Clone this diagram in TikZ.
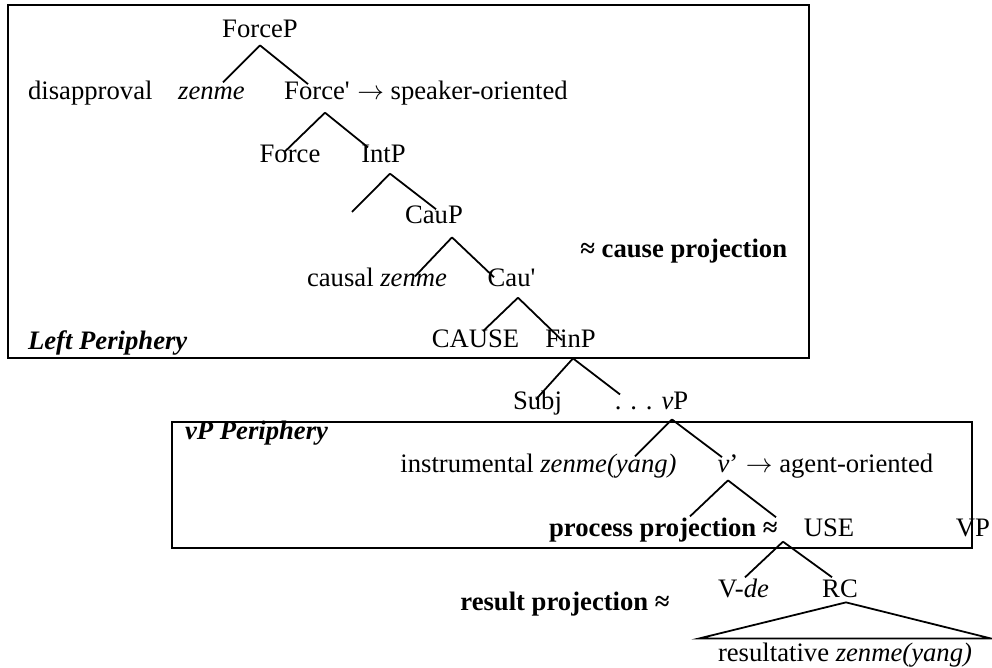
\documentclass[tikz,border=0pt]{standalone}
\usepackage{fontspec}
\setmainfont{Liberation Serif}
\begin{document}
\begin{tikzpicture}[x=0.45pt,y=-0.45pt,
  every node/.style={font=\fontsize{12}{14}\selectfont, inner sep=3pt},
  lab/.style={anchor=base},
  labw/.style={anchor=base west},
  labe/.style={anchor=base east},
  arrowtext/.style={anchor=base west, inner xsep=0pt},
  note/.style={font=\fontsize{12}{14}\selectfont\bfseries},
  branch/.style={line width=0.8pt},
  periph/.style={line width=1.1pt}]
\useasboundingbox (0,0) rectangle (992,668);

% Peripheries
\draw[periph] (8,5) rectangle (809,358);
\draw[periph] (172,422) rectangle (972,548);

% Left periphery
\node[lab] (forcep) at (260,38) {ForceP};
\node[labw] (disappr) at (21,100) {disapproval};
\node[lab] (zenme) at (211.5,100) {\textit{zenme}};
\node[lab] (forcebar) at (317,100) {Force\textquotesingle};
\node[arrowtext] (spkr) at (forcebar.base east) {$\rightarrow$ speaker-oriented};
\node[lab] (force) at (290,163) {Force};
\node[lab] (intp) at (383.5,163) {IntP};
\coordinate (intspec) at (352,212);
\node[lab] (caup) at (434,224) {CauP};
\node[note,labw] (causeproj) at (573.3,258) {≈ cause projection};
\node[lab] (causal) at (377,287) {causal \textit{zenme}};
\node[lab] (caubar) at (511.5,287) {Cau\textquotesingle};
\node[lab] (cause) at (475.5,348) {CAUSE};
\node[lab] (finp) at (570.5,348) {FinP};
\node[labw] (leftp) at (21,350) {\bfseries\itshape Left Periphery};

% vP periphery
\node[lab] (subj) at (537.5,410) {Subj};
\node[lab] (vp) at (651.5,410) {. . . \textit{v}P};
\node[labw] (vpp) at (178,440) {\bfseries\itshape vP Periphery};
\node[lab] (instr) at (538.5,473) {instrumental \textit{zenme(yang)}};
\node[lab] (vbar) at (728,473) {\textit{v}’};
\node[arrowtext] (agent) at (vbar.base east) {$\rightarrow$ agent-oriented};
\node[note,labe] (procproj) at (784.7,537) {process projection ≈};
\node[lab] (use) at (829,537) {USE};
\node[lab] (vpbig) at (973,537) {VP};

% Result
\node[lab] (vde) at (743.5,598) {V-\textit{de}};
\node[lab] (rc) at (840,598) {RC};
\node[note,labe] (resproj) at (676.7,611) {result projection ≈};
\node[lab] (result) at (845,662) {resultative \textit{zenme(yang)}};

% Branches
\draw[branch] (forcep.south) -- ([shift={(11.5,2)}]zenme.north);
\draw[branch] (forcep.south) -- ([shift={(-9,8.7)}]forcebar.north);
\draw[branch] ([shift={(8,5.3)}]forcebar.south) -- ([shift={(-5,13)}]force.north);
\draw[branch] ([shift={(8,5.3)}]forcebar.south) -- ([shift={(-15.5,9)}]intp.north);
\draw[branch] ([shift={(6.5,3.3)}]intp.south) -- (intspec);
\draw[branch] ([shift={(6.5,3.3)}]intp.south) -- ([shift={(2,10)}]caup.north);
\draw[branch] ([shift={(18,6)}]caup.south) -- ([shift={(38,15)}]causal.north);
\draw[branch] ([shift={(18,6)}]caup.south) -- ([shift={(-17.5,15)}]caubar.north);
\draw[branch] ([shift={(6.5,3.3)}]caubar.south) -- ([shift={(7.5,8)}]cause.north);
\draw[branch] ([shift={(6.5,3.3)}]caubar.south) -- ([shift={(-8.5,17)}]finp.north);
\draw[branch] ([shift={(2.5,3.3)}]finp.south) -- ([shift={(-1.5,15)}]subj.north);
\draw[branch] ([shift={(2.5,3.3)}]finp.south) -- ([shift={(-31.5,9)}]vp.north);
\draw[branch] ([shift={(20.5,2)}]vp.south) -- ([shift={(96.5,9)}]instr.north);
\draw[branch] ([shift={(20.5,2)}]vp.south) -- ([shift={(-6,9)}]vbar.north);
\draw[branch] (vbar.south) -- ([shift={(-94.7,5)}]procproj.north east);
\draw[branch] (vbar.south) -- ([shift={(-53,5)}]use.north);
\draw[branch] ([shift={(-46,-2.7)}]use.south) -- ([shift={(1.5,5)}]vde.north);
\draw[branch] ([shift={(-46,-2.7)}]use.south) -- ([shift={(-8,4)}]rc.north);
\draw[branch] ([shift={(6,-3)}]rc.south) -- ([shift={(-12.3,2.2)}]result.north west)
  -- ([shift={(12.3,2.2)}]result.north east) -- cycle;
\end{tikzpicture}
\end{document}
